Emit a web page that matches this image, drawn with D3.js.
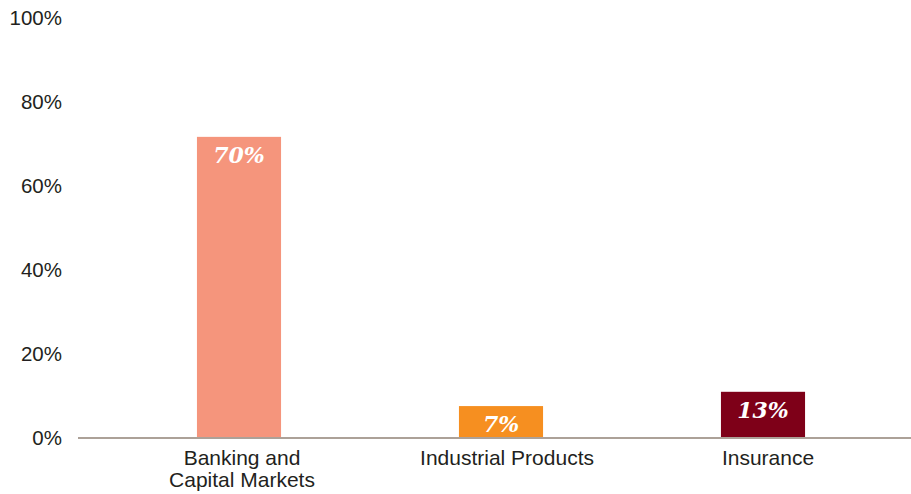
<!DOCTYPE html>
<html>
<head>
<meta charset="utf-8">
<script src="https://cdn.jsdelivr.net/npm/d3@7"></script>
<style>
  html, body { margin: 0; padding: 0; background: #ffffff; }
  svg { display: block; }
</style>
</head>
<body>
<div id="chart"></div>
<script>
// ---- Data ----
const categories = ["Banking and\nCapital Markets", "Industrial Products", "Insurance"];
const values = [71.7, 7.6, 11.0];          // bar heights as drawn (%)
const valueLabels = ["70%", "7%", "13%"];  // printed labels
const barColors = ["#f5957c", "#f68f20", "#7e0018"];
const yTicks = [0, 20, 40, 60, 80, 100];

// ---- Layout ----
const W = 911, H = 494;
const svg = d3.select("#chart").append("svg")
  .attr("width", W).attr("height", H);

const y = d3.scaleLinear().domain([0, 100]).range([438, 18]);
const x = d3.scaleBand().domain(categories).range([108, 894])
  .paddingInner(0.679).paddingOuter(0.3395);

// Y tick labels (no axis line)
const yAxis = d3.axisLeft(y).tickValues(yTicks).tickSize(0).tickPadding(0)
  .tickFormat(d => d + "%");
const gy = svg.append("g").attr("transform", "translate(62,0)").call(yAxis);
gy.select(".domain").remove();
gy.selectAll("text")
  .attr("font-family", "'Liberation Sans', Arial, Helvetica, sans-serif")
  .attr("font-size", 20.5)
  .attr("fill", "#231f20");

// Bars
svg.append("g").selectAll("rect")
  .data(categories)
  .join("rect")
  .attr("x", d => x(d))
  .attr("width", x.bandwidth())
  .attr("y", (d, i) => y(values[i]))
  .attr("height", (d, i) => y(0) - y(values[i]))
  .attr("fill", (d, i) => barColors[i]);

// Value labels
svg.append("g").selectAll("text")
  .data(categories)
  .join("text")
  .attr("x", d => x(d) + x.bandwidth() / 2)
  .attr("y", (d, i) => y(values[i]) + 26)
  .attr("text-anchor", "middle")
  .attr("font-family", "'DejaVu Serif', Georgia, serif")
  .attr("font-weight", "bold")
  .attr("font-style", "italic")
  .attr("font-size", 22)
  .attr("fill", "#ffffff")
  .text((d, i) => valueLabels[i]);

// Baseline axis line
svg.append("line")
  .attr("x1", 78).attr("x2", W)
  .attr("y1", y(0)).attr("y2", y(0))
  .attr("stroke", "#aca198").attr("stroke-width", 2.2);

// X category labels
const xAxis = d3.axisBottom(x).tickSize(0).tickPadding(0);
const gx = svg.append("g").attr("transform", `translate(0,${y(0)})`).call(xAxis);
gx.select(".domain").remove();
gx.selectAll(".tick text").each(function(d) {
  const t = d3.select(this);
  const lines = d.split("\n");
  t.text(null)
    .attr("y", 0)
    .attr("dy", null)
    .attr("font-family", "'Liberation Sans', Arial, Helvetica, sans-serif")
    .attr("font-size", 21)
    .attr("fill", "#231f20");
  lines.forEach((ln, k) => {
    t.append("tspan").attr("x", (k === 0 && lines.length > 1) ? 0 : 0)
      .attr("dx", lines.length > 1 ? 3 : (d === "Insurance" ? 5 : 6))
      .attr("y", 27 + k * 22).text(ln);
  });
});
</script>
</body>
</html>
